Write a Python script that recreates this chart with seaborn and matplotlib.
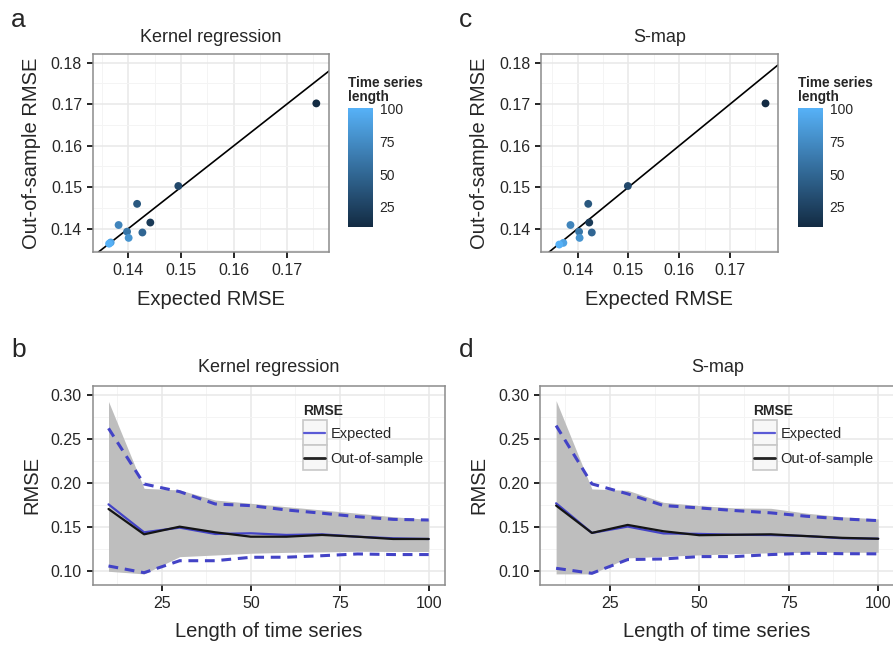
import numpy as np
import pandas as pd
import seaborn as sns
import matplotlib
matplotlib.use("Agg")
import matplotlib.pyplot as plt
from matplotlib.colors import LinearSegmentedColormap, Normalize
from matplotlib.cm import ScalarMappable
from matplotlib.lines import Line2D
from matplotlib.patches import Rectangle
from matplotlib.ticker import MultipleLocator, FormatStrFormatter

# ---------------- data ----------------
lengths = [10, 20, 30, 40, 50, 60, 70, 80, 90, 100]

# panel a : kernel regression, expected vs out-of-sample RMSE
kr_expected_pt = [0.1756, 0.1442, 0.1495, 0.1417, 0.1427, 0.1398, 0.1382, 0.1401, 0.1367, 0.1364]
kr_out_pt      = [0.1702, 0.1415, 0.1503, 0.1460, 0.1391, 0.1393, 0.1409, 0.1378, 0.1367, 0.1364]

# panel c : S-map
sm_expected_pt = [0.1770, 0.1423, 0.1499, 0.1421, 0.1428, 0.1403, 0.1386, 0.1404, 0.1372, 0.1364]
sm_out_pt      = [0.1702, 0.1415, 0.1503, 0.1460, 0.1391, 0.1393, 0.1409, 0.1378, 0.1366, 0.1362]

# panel b : kernel regression vs length
kr_exp_med = [0.1761, 0.1443, 0.1496, 0.1424, 0.1432, 0.1413, 0.1420, 0.1393, 0.1375, 0.1367]
kr_out_med = [0.1708, 0.1420, 0.1507, 0.1443, 0.1393, 0.1393, 0.1413, 0.1393, 0.1367, 0.1367]
kr_exp_lo  = [0.1060, 0.0984, 0.1120, 0.1120, 0.1159, 0.1160, 0.1177, 0.1197, 0.1190, 0.1190]
kr_exp_hi  = [0.2625, 0.1992, 0.1905, 0.1765, 0.1746, 0.1697, 0.1660, 0.1620, 0.1590, 0.1583]
kr_out_lo  = [0.1000, 0.0970, 0.1166, 0.1185, 0.1205, 0.1215, 0.1220, 0.1227, 0.1225, 0.1225]
kr_out_hi  = [0.2930, 0.1943, 0.1924, 0.1810, 0.1773, 0.1734, 0.1697, 0.1660, 0.1620, 0.1590]

# panel d : S-map vs length
sm_exp_med = [0.1773, 0.1436, 0.1508, 0.1430, 0.1425, 0.1415, 0.1412, 0.1400, 0.1375, 0.1370]
sm_out_med = [0.1747, 0.1436, 0.1527, 0.1455, 0.1410, 0.1415, 0.1420, 0.1400, 0.1380, 0.1370]
sm_exp_lo  = [0.1034, 0.0977, 0.1133, 0.1140, 0.1167, 0.1167, 0.1190, 0.1205, 0.1200, 0.1198]
sm_exp_hi  = [0.2656, 0.1993, 0.1880, 0.1747, 0.1720, 0.1690, 0.1664, 0.1625, 0.1595, 0.1576]
sm_out_lo  = [0.0970, 0.0970, 0.1152, 0.1170, 0.1186, 0.1200, 0.1210, 0.1216, 0.1216, 0.1216]
sm_out_hi  = [0.2940, 0.1936, 0.1920, 0.1784, 0.1747, 0.1720, 0.1716, 0.1660, 0.1620, 0.1595]

cbar_ticks = [25, 50, 75, 100]
legend_labels = ["Expected", "Out-of-sample"]

# ---------------- style ----------------
sns.set_style("white")
plt.rcParams["font.family"] = ["Liberation Sans", "DejaVu Sans"]

W, H = 893, 647
fig = plt.figure(figsize=(W / 100, H / 100), dpi=100)


def fx(px):
    return px / W


def fy(py):
    return 1 - py / H


cmap = LinearSegmentedColormap.from_list("gg", ["#132B43", "#56B1F7"])
norm = Normalize(vmin=10, vmax=100)

BLUE = "#4343c6"
GRAY_FILL = "#bebebe"
SPINE = "#8c8c8c"


def style_axes(ax, xmaj, xmin_, ymaj, ymin_):
    ax.xaxis.set_major_locator(MultipleLocator(xmaj))
    ax.xaxis.set_minor_locator(MultipleLocator(xmin_))
    ax.yaxis.set_major_locator(MultipleLocator(ymaj))
    ax.yaxis.set_minor_locator(MultipleLocator(ymin_))
    ax.grid(True, which="major", color="#e8e8e8", lw=1.1)
    ax.grid(True, which="minor", color="#f4f4f4", lw=0.7)
    ax.set_axisbelow(True)
    for s in ax.spines.values():
        s.set_color(SPINE)
        s.set_linewidth(1.1)
        s.set_visible(True)
    ax.tick_params(which="major", direction="out", length=4.2, width=1.2,
                   color="black", labelsize=11.5, pad=3.5, left=True, bottom=True)
    ax.tick_params(which="minor", length=0)


# ---------------- top scatter panels ----------------
def scatter_panel(rect, xs, ys, xlim, ylim, title, cax_left):
    ax = fig.add_axes(rect)
    df = pd.DataFrame({"expected": xs, "out": ys, "length": lengths})
    ax.axline((0, 0), slope=1, color="black", lw=1.2, zorder=2)
    sns.scatterplot(data=df, x="expected", y="out", hue="length", palette=cmap,
                    hue_norm=(10, 100), legend=False, s=32, edgecolor="none",
                    ax=ax, zorder=3)
    ax.set_xlim(*xlim)
    ax.set_ylim(*ylim)
    style_axes(ax, 0.01, 0.005, 0.01, 0.005)
    ax.xaxis.set_major_formatter(FormatStrFormatter("%.2f"))
    ax.yaxis.set_major_formatter(FormatStrFormatter("%.2f"))
    ax.set_xlabel("Expected RMSE", fontsize=14.5, labelpad=9)
    ax.set_ylabel("Out-of-sample RMSE", fontsize=14.5, labelpad=7)
    ax.set_title(title, fontsize=13, pad=8.5)
    # colour bar
    cax = fig.add_axes([fx(cax_left), fy(226.7), fx(24.7), 118.4 / H])
    cb = fig.colorbar(ScalarMappable(norm=norm, cmap=cmap), cax=cax)
    cb.outline.set_visible(False)
    cb.set_ticks(cbar_ticks)
    cax.tick_params(direction="in", color="white", length=4, width=1.1,
                    left=True, right=True, labelsize=10, pad=5)
    fig.text(fx(cax_left), fy(104), "Time series\nlength", fontsize=9.8,
             fontweight="bold", ha="left", va="bottom", linespacing=1.0)
    return ax


scatter_panel([fx(92.7), fy(252), fx(329 - 92.7), 198 / H],
              kr_expected_pt, kr_out_pt, (0.1333, 0.1780), (0.1344, 0.1821),
              "Kernel regression", 348)
scatter_panel([fx(541), fy(252), fx(777.7 - 541), 198 / H],
              sm_expected_pt, sm_out_pt, (0.1328, 0.1794), (0.1344, 0.1821),
              "S-map", 798)


# ---------------- bottom panels ----------------
def draw_legend(left):
    """ggplot-style legend: bold title and two boxed keys, placed in pixels."""
    fig.text(fx(left), fy(415), "RMSE", fontsize=10, fontweight="bold",
             ha="left", va="baseline")
    colors = ["#5a5ad6", "#222222"]
    widths = [1.6, 2.0]
    for i, (lab, col, lw) in enumerate(zip(legend_labels, colors, widths)):
        top = 420 + 25 * i
        fig.add_artist(Rectangle((fx(left), fy(top + 25)), fx(24), 25 / H,
                                 transform=fig.transFigure, facecolor="#f7f7f7",
                                 edgecolor="#c8c8c8", lw=1.2))
        yc = fy(top + 12.5)
        fig.add_artist(Line2D([fx(left + 1.5), fx(left + 22.5)], [yc, yc],
                              transform=fig.transFigure, color=col, lw=lw))
        fig.text(fx(left + 28), yc, lab, fontsize=10.5, ha="left",
                 va="center_baseline")


def line_panel(rect, exp_med, out_med, exp_lo, exp_hi, out_lo, out_hi, title,
               legend_left):
    ax = fig.add_axes(rect)
    ax.fill_between(lengths, out_lo, out_hi, color=GRAY_FILL, lw=0, zorder=1)
    for arr in (exp_hi, exp_lo):
        sns.lineplot(x=lengths, y=arr, color=BLUE, lw=2.2, ax=ax, zorder=2)
    for ln in ax.lines:
        ln.set_dashes([3.2, 2.2])
    sns.lineplot(x=lengths, y=exp_med, color=BLUE, lw=1.6, ax=ax, zorder=3)
    sns.lineplot(x=lengths, y=out_med, color="#151515", lw=1.6, ax=ax, zorder=4)
    ax.set_xlim(5.5, 104.5)
    ax.set_ylim(0.0844, 0.3106)
    style_axes(ax, 25, 12.5, 0.05, 0.025)
    ax.yaxis.set_major_formatter(FormatStrFormatter("%.2f"))
    ax.set_xlabel("Length of time series", fontsize=14.5, labelpad=8)
    ax.set_ylabel("RMSE", fontsize=14.5, labelpad=7)
    ax.set_title(title, fontsize=13, pad=10)
    draw_legend(legend_left)
    return ax


line_panel([fx(92.5), fy(585), fx(444.7 - 92.5), 199 / H],
           kr_exp_med, kr_out_med, kr_exp_lo, kr_exp_hi, kr_out_lo, kr_out_hi,
           "Kernel regression", 302.7)
line_panel([fx(540), fy(585), fx(894.3 - 540), 199 / H],
           sm_exp_med, sm_out_med, sm_exp_lo, sm_exp_hi, sm_out_lo, sm_out_hi,
           "S-map", 752.7)

# panel letters
for letter, x, y in [("a", 11, 26.7), ("c", 459, 26.7), ("b", 11, 357), ("d", 459, 357)]:
    fig.text(fx(x), fy(y), letter, fontsize=19, ha="left", va="baseline")

fig.savefig("out.png", dpi=100)
